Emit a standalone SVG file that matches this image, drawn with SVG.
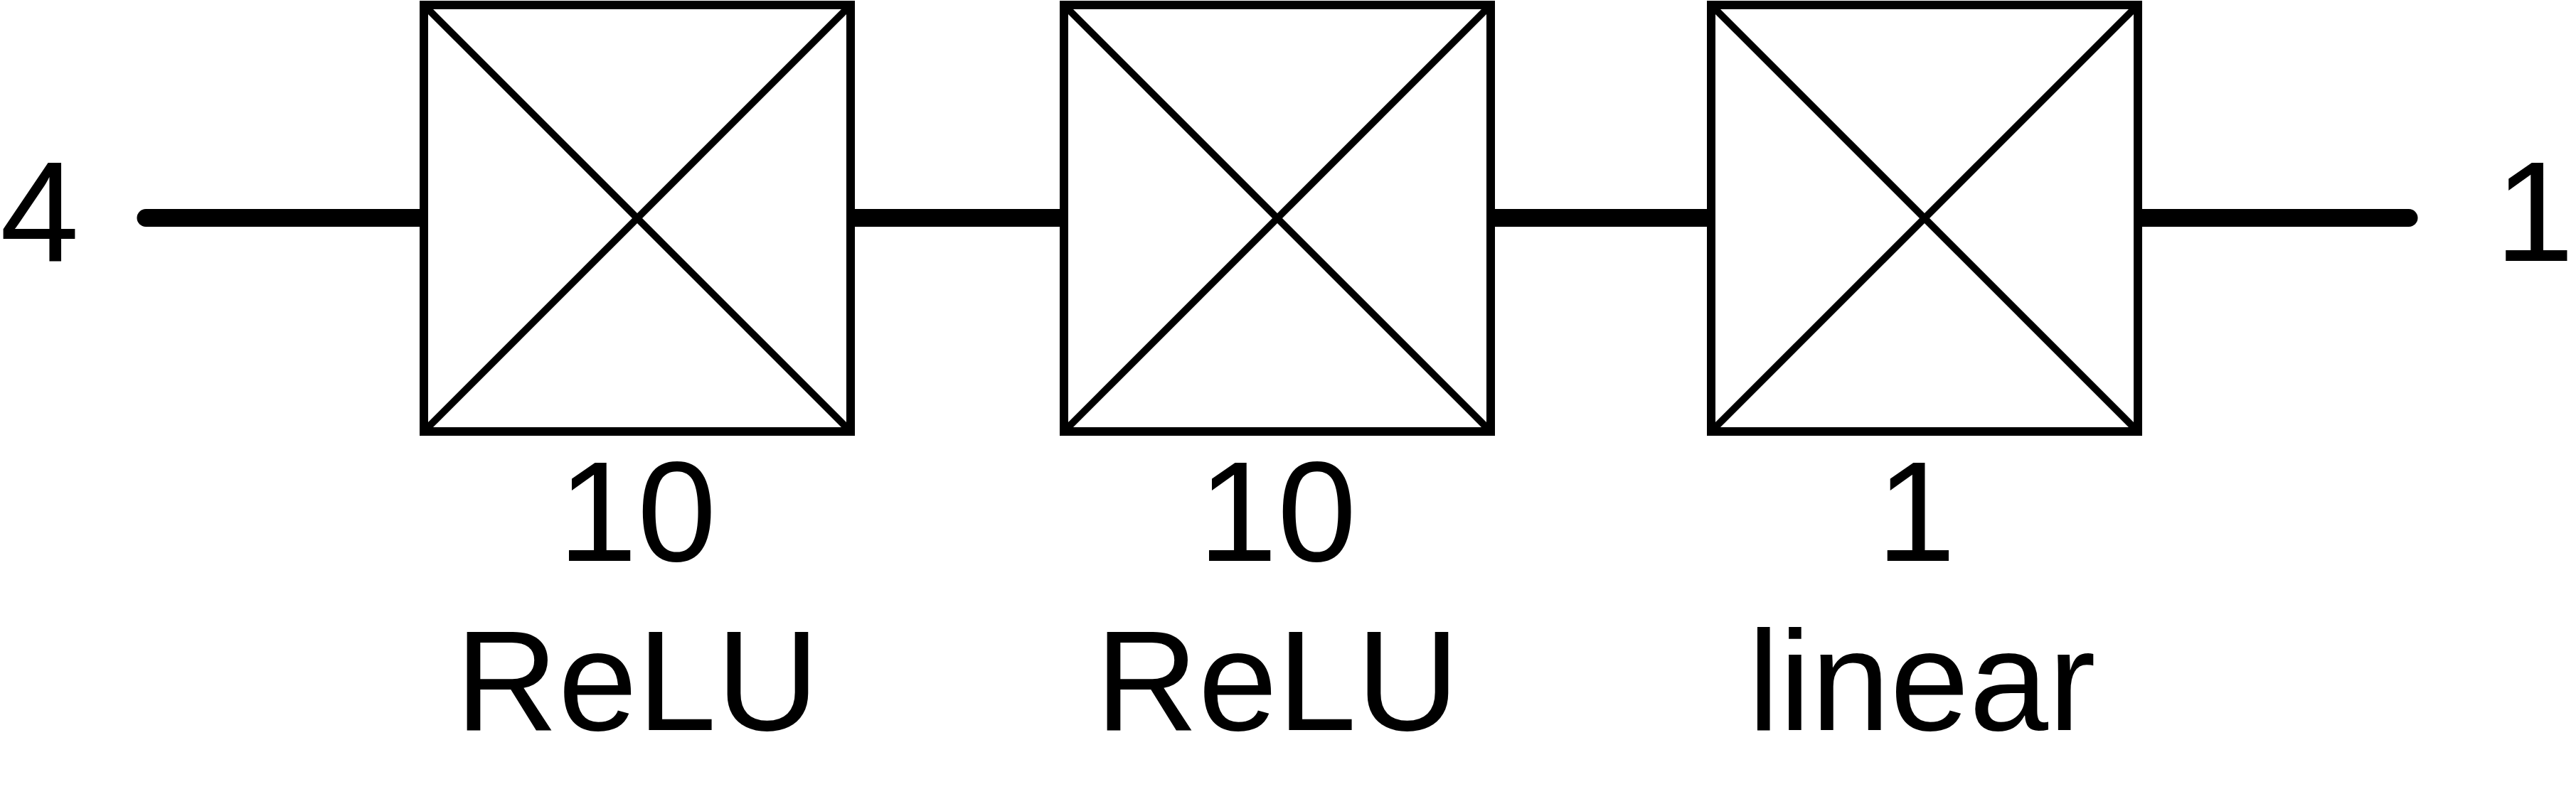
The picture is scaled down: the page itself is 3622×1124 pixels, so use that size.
<svg xmlns="http://www.w3.org/2000/svg" width="3622" height="1124" viewBox="0 0 3622 1124">
<style>
.frame{fill:#fff;stroke:#000;stroke-width:12}
.diag{stroke:#000;stroke-width:10;fill:none}
.conn{stroke:#000;stroke-width:25;fill:none}
.lbl{font-family:"Liberation Sans",Arial,sans-serif;font-size:200px;fill:#000}
.mid{text-anchor:middle}
</style>
<rect width="3622" height="1124" fill="#fff"/>
<g id="connectors">
<line class="conn" x1="205" y1="306.5" x2="590" y2="306.5" stroke-linecap="round"/>
<line class="conn" x1="1196" y1="306.5" x2="1496" y2="306.5"/>
<line class="conn" x1="2096" y1="306.5" x2="2406" y2="306.5"/>
<line class="conn" x1="3012" y1="306.5" x2="3387" y2="306.5" stroke-linecap="round"/>
</g>
<g id="input">
<text class="lbl" x="0" y="367">4</text>
</g>
<g id="output">
<text class="lbl" x="3508" y="367">1</text>
</g>
<g id="layer1">
<rect class="frame" x="596" y="7" width="600" height="600"/>
<line class="diag" x1="596" y1="7" x2="1196" y2="607"/>
<line class="diag" x1="1196" y1="7" x2="596" y2="607"/>
<text class="lbl mid" x="896" y="789">10</text>
<text class="lbl mid" x="896" y="1027">ReLU</text>
</g>
<g id="layer2">
<rect class="frame" x="1496" y="7" width="600" height="600"/>
<line class="diag" x1="1496" y1="7" x2="2096" y2="607"/>
<line class="diag" x1="2096" y1="7" x2="1496" y2="607"/>
<text class="lbl mid" x="1796" y="789">10</text>
<text class="lbl mid" x="1796" y="1027">ReLU</text>
</g>
<g id="layer3">
<rect class="frame" x="2406" y="7" width="600" height="600"/>
<line class="diag" x1="2406" y1="7" x2="3006" y2="607"/>
<line class="diag" x1="3006" y1="7" x2="2406" y2="607"/>
<text class="lbl mid" x="2694" y="789">1</text>
<text class="lbl mid" x="2702" y="1027">linear</text>
</g>
</svg>
